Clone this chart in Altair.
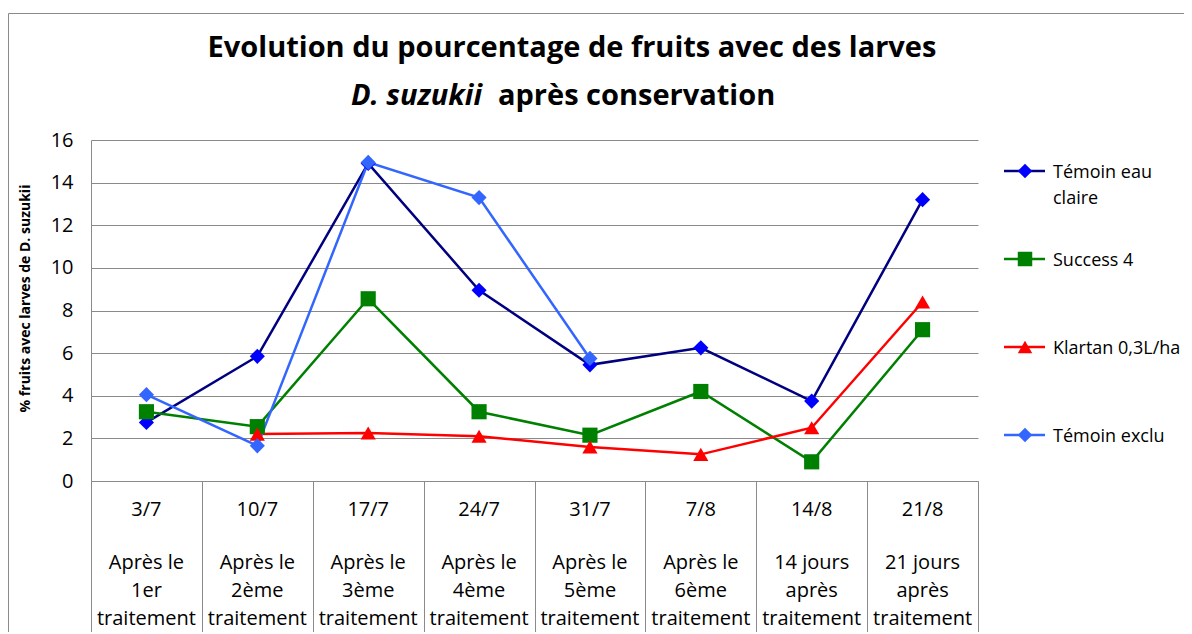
import altair as alt
import pandas as pd

# ---------------- data ----------------
DATES = ["3/7", "10/7", "17/7", "24/7", "31/7", "7/8", "14/8", "21/8"]
PERIODS = [
    ["Après le", "1er", "traitement"],
    ["Après le", "2ème", "traitement"],
    ["Après le", "3ème", "traitement"],
    ["Après le", "4ème", "traitement"],
    ["Après le", "5ème", "traitement"],
    ["Après le", "6ème", "traitement"],
    ["14 jours", "après", "traitement"],
    ["21 jours", "après", "traitement"],
]
SERIES = ["Témoin eau claire", "Success 4", "Klartan 0,3L/ha", "Témoin exclu"]
LEGEND_LABELS = ["Témoin eau\nclaire", "Success 4", "Klartan 0,3L/ha", "Témoin exclu"]

TEMOIN_EAU = [2.75, 5.85, 14.9, 8.95, 5.45, 6.25, 3.75, 13.2]
SUCCESS_4 = [3.25, 2.55, 8.55, 3.25, 2.15, 4.2, 0.9, 7.1]
KLARTAN = [None, 2.2, 2.25, 2.1, 1.6, 1.25, 2.5, 8.4]
TEMOIN_EXCLU = [4.05, 1.65, 14.95, 13.3, 5.75, None, None, None]

Y_TICKS = [0, 2, 4, 6, 8, 10, 12, 14, 16]

TITLE_1 = "Evolution du pourcentage de fruits avec des larves"
TITLE_2A = "D. suzukii"
TITLE_2B = "après conservation"
Y_TITLE = "% fruits avec larves de D. suzukii"

# ---------------- styles ----------------
LINE_COLORS = ["#000080", "#008000", "#FF0000", "#3366FF"]
MARKER_COLORS = ["#0000FF", "#008000", "#FF0000", "#3366FF"]
SHAPES = ["diamond", "square", "triangle-up", "diamond"]
GRAY = "#8a8a8a"
FONT = "Open Sans"

CATS = DATES

rows = []
for name, vals in zip(SERIES, [TEMOIN_EAU, SUCCESS_4, KLARTAN, TEMOIN_EXCLU]):
    for c, v in zip(CATS, vals):
        if v is not None:
            rows.append({"cat": c, "series": name, "value": v})
df = pd.DataFrame(rows)

cat_df = pd.DataFrame({"cat": DATES, "desc": ["\n".join(p) for p in PERIODS]})
leg_df = pd.DataFrame({"series": SERIES, "label": LEGEND_LABELS})
one = pd.DataFrame({"k": [0]})

color_scale = alt.Scale(domain=SERIES, range=LINE_COLORS)
fill_scale = alt.Scale(domain=SERIES, range=MARKER_COLORS)
shape_scale = alt.Scale(domain=SERIES, range=SHAPES)

x_scale = alt.Scale(type="band", domain=CATS, paddingInner=0, paddingOuter=0)
x_axis = alt.Axis(
    title=None,
    labels=False,
    tickBand="extent",
    tickSize=160,
    tickColor=GRAY,
    tickWidth=1,
    domainColor=GRAY,
    domainWidth=1,
    grid=False,
)
x_enc = alt.X("cat:N", sort=CATS, scale=x_scale, axis=x_axis)
y_enc = alt.Y(
    "value:Q",
    scale=alt.Scale(domain=[0, 16], nice=False, zero=True),
    axis=alt.Axis(
        values=Y_TICKS,
        title=Y_TITLE,
        titleFont=FONT,
        titleFontSize=14,
        titleFontWeight="bold",
        titleColor="#000000",
        titleAngle=270,
        titleAlign="center",
        titleBaseline="middle",
        titleX=-66,
        titleY=158,
        labelFont=FONT,
        labelFontSize=20,
        labelColor="#000000",
        labelPadding=18,
        ticks=False,
        tickSize=0,
        domainColor=GRAY,
        domainWidth=1,
        grid=True,
        gridColor=GRAY,
        gridWidth=1,
    ),
)

lines = alt.Chart(df).mark_line(strokeWidth=2.5).encode(
    x=x_enc,
    y=y_enc,
    color=alt.Color("series:N", scale=color_scale, legend=None),
)
points = alt.Chart(df).mark_point(filled=True, size=230, opacity=1).encode(
    x=x_enc,
    y=y_enc,
    fill=alt.Fill("series:N", scale=fill_scale, legend=None),
    shape=alt.Shape("series:N", scale=shape_scale, legend=None),
)
main = alt.layer(lines, points)

# category labels under the axis (date, blank line, description)
date_txt = alt.Chart(cat_df).mark_text(
    font=FONT, fontSize=20, color="#000000", align="center", baseline="middle"
).encode(x=x_enc, y=alt.value(370), text="cat:N")
desc_txt = alt.Chart(cat_df).mark_text(
    font=FONT, fontSize=20, color="#000000", align="center", baseline="middle",
    lineBreak="\n", lineHeight=28,
).encode(x=x_enc, y=alt.value(423), text="desc:N")

# ---------------- legend (built from the series list) ----------------
leg_y = alt.Y("series:N", sort=SERIES,
              scale=alt.Scale(type="point", domain=SERIES, range=[31, 295], padding=0),
              axis=None)
leg_rule = alt.Chart(leg_df).mark_rule(strokeWidth=2.5).encode(
    y=leg_y, x=alt.value(913), x2=alt.value(954),
    color=alt.Color("series:N", scale=color_scale, legend=None),
)
leg_pt = alt.Chart(leg_df).mark_point(filled=True, size=210, opacity=1).encode(
    y=leg_y, x=alt.value(934),
    fill=alt.Fill("series:N", scale=fill_scale, legend=None),
    shape=alt.Shape("series:N", scale=shape_scale, legend=None),
)
leg_txt = alt.Chart(leg_df).mark_text(
    align="left", baseline="alphabetic", dy=7, lineBreak="\n", lineHeight=26,
    font=FONT, fontSize=18, color="#000000",
).encode(y=leg_y, x=alt.value(962), text="label:N")
legend = alt.layer(leg_rule, leg_pt, leg_txt)

# ---------------- titles & frame ----------------
border = alt.Chart(one).mark_rect(fillOpacity=0, stroke=GRAY, strokeWidth=1).encode(
    x=alt.value(-82.5), x2=alt.value(1300), y=alt.value(-126.5), y2=alt.value(800)
)
t1 = alt.Chart(one).mark_text(
    font=FONT, fontSize=29, fontWeight="bold", align="center", baseline="alphabetic", color="#000000"
).encode(x=alt.value(481), y=alt.value(-83), text=alt.value(TITLE_1))
t2a = alt.Chart(one).mark_text(
    font=FONT, fontSize=29, fontWeight="bold", fontStyle="italic", align="right",
    baseline="alphabetic", color="#000000"
).encode(x=alt.value(391), y=alt.value(-35), text=alt.value(TITLE_2A))
t2b = alt.Chart(one).mark_text(
    font=FONT, fontSize=29, fontWeight="bold", align="left", baseline="alphabetic", color="#000000"
).encode(x=alt.value(407), y=alt.value(-35), text=alt.value(TITLE_2B))

chart = (
    alt.layer(border, main, date_txt, desc_txt, legend, t1, t2a, t2b)
    .resolve_scale(y="independent")
    .properties(
        width=887,
        height=341,
        autosize=alt.AutoSizeParams(type="none"),
        padding={"left": 83, "top": 132, "right": 206, "bottom": 151},
        background="#ffffff",
    )
    .configure_view(stroke=None)
)

chart.save("out.html", embed_options={"renderer": "svg", "actions": False})
